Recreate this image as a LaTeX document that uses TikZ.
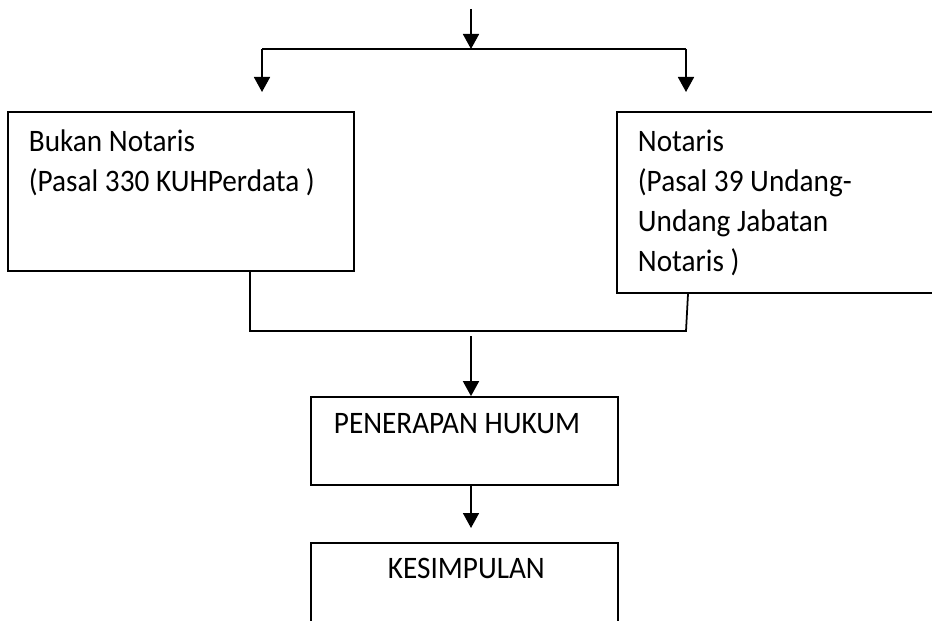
\documentclass[tikz,border=0pt]{standalone}
\usepackage{fontspec}
\setmainfont{Carlito}[FakeStretch=0.935]
\usetikzlibrary{arrows.meta,positioning}
\tikzset{
  box/.style={draw, rectangle, inner sep=0pt},
  txt/.style={font=\fontsize{17.8}{22.8}\selectfont, anchor=base west, align=left, inner sep=0pt}
}
\begin{document}
\begin{tikzpicture}[x=0.02cm, y=-0.02cm, line width=1pt, >={Triangle[length=3mm,width=3.2mm]}]
		\useasboundingbox (0,0) rectangle (932,621);
		\clip (0,0) rectangle (932,621);
		% boxes
		\node[box, minimum width=6.92cm, minimum height=3.18cm] (bukan) at (181,191.5) {};
		\node[box, minimum width=8cm, minimum height=3.62cm] (notaris) at (817,202.5) {};
		\node[box, minimum width=6.14cm, minimum height=1.76cm] (penerapan) at (464.5,441) {};
		\node[box, minimum width=6.14cm, minimum height=3.14cm] (kesimpulan) at (464.5,621.5) {};
		% texts (base = last line)
		\node[txt] (bukantxt) at (28,192) {Bukan Notaris\\(Pasal 330 KUHPerdata )};
		\node[txt] (notaristxt) at (637,272) {Notaris\\(Pasal 39 Undang-\\Undang Jabatan\\Notaris )};
		\node[txt] (penerapantxt) at (333,433.5) {PENERAPAN HUKUM};
		\node[txt] (kesimpulantxt) at (387,578) {KESIMPULAN};
		% top fork
		\path (471,9) coordinate (start) (471,49) coordinate (fork);
		\path (262,49) coordinate (forkL) (686,49) coordinate (forkR);
		\path (262,92) coordinate (tipL) (686,92) coordinate (tipR);
		\draw[->] (start)--(fork);
		\draw (forkL)--(forkR);
		\draw[->] (forkL)--(tipL);
		\draw[->] (forkR)--(tipR);
		% join below
		\path (250,331) coordinate (joinL) (686,331) coordinate (joinR) (688,0) coordinate (colR);
		\draw (bukan.south -| joinL)--(joinL)--(joinR)--(notaris.south -| colR);
		\path (471,336) coordinate (midtop) (471,528) coordinate (midbot);
		\draw[->] (midtop)--(penerapan.north -| midtop);
		\draw[->] (penerapan.south -| midbot)--(midbot);
	\end{tikzpicture}
\end{document}
